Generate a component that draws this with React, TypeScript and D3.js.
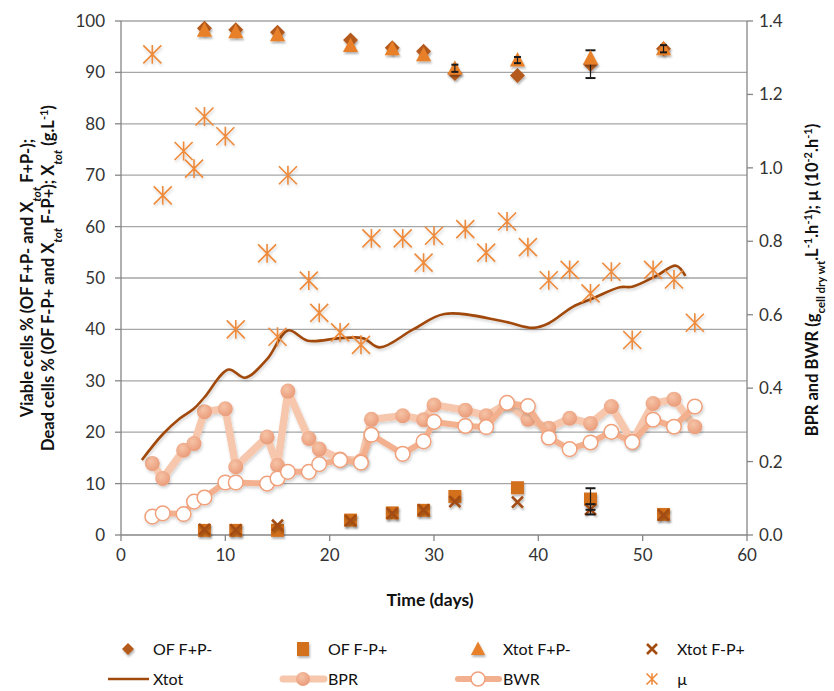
import React from "react";
import * as d3 from "d3";

// ---------- DATA ----------
const cellDays = [8, 11, 15, 22, 26, 29, 32, 38, 45, 52];
const ofViable = [98.6, 98.3, 97.8, 96.3, 94.8, 94.1, 89.8, 89.4, 91.6, 94.6];
const xtotViable = [98.2, 97.9, 97.3, 95.2, 94.6, 93.4, 90.8, 92.4, 92.8, 94.6];
const ofDead = [0.9, 0.9, 0.9, 2.9, 4.3, 4.8, 7.5, 9.2, 7.0, 4.0];
const xtotDead = [1.1, 1.0, 1.9, 2.8, 4.2, 4.9, 6.5, 6.4, 5.0, 3.9];
const ofViableErr = [0, 0, 0, 0, 0, 0, 0, 0, 2.7, 0];
const xtotViableErr = [0, 0, 0, 0, 0, 0, 0.7, 0.6, 0, 0.7];
const ofDeadErr = [0, 0, 0, 0, 0, 0, 0, 0, 2.1, 0];
const xtotDeadErr = [0, 0, 0, 0, 0, 0, 0, 0, 1.0, 0];

const rateDays = [3, 4, 6, 7, 8, 10, 11, 14, 15, 16, 18, 19, 21, 23, 24, 27, 29, 30, 33, 35, 37, 39, 41, 43, 45, 47, 49, 51, 53, 55];
const bpr = [0.195, 0.154, 0.231, 0.249, 0.336, 0.344, 0.186, 0.267, 0.19, 0.392, 0.263, 0.234, 0.207, 0.202, 0.315, 0.325, 0.314, 0.354, 0.34, 0.325, 0.358, 0.315, 0.291, 0.318, 0.304, 0.35, 0.255, 0.358, 0.37, 0.295];
const bwr = [0.05, 0.059, 0.057, 0.091, 0.102, 0.143, 0.143, 0.14, 0.154, 0.172, 0.172, 0.193, 0.204, 0.197, 0.273, 0.221, 0.255, 0.308, 0.297, 0.294, 0.36, 0.351, 0.265, 0.234, 0.252, 0.281, 0.253, 0.314, 0.295, 0.35];
const mu = [1.309, 0.925, 1.046, 0.998, 1.14, 1.086, 0.56, 0.767, 0.54, 0.98, 0.693, 0.605, 0.552, 0.518, 0.808, 0.808, 0.742, 0.815, 0.833, 0.769, 0.854, 0.784, 0.694, 0.722, 0.658, 0.717, 0.531, 0.722, 0.696, 0.578];

const xtotDays = [2, 4, 5.6, 7, 8, 10.3, 11.9, 14, 16, 17.9, 21, 23.2, 24.8, 28, 31, 36.6, 39.5, 41, 43.3, 45.2, 47.8, 49, 51.3, 53.2, 54.1];
const xtotValues = [14.6, 19.6, 22.6, 24.6, 26.8, 32.2, 30.6, 34.2, 39.8, 37.8, 38.3, 38.3, 36.5, 40, 43, 41.6, 40.3, 41.2, 44.4, 46.0, 48.2, 48.3, 50.4, 52.4, 50.4];

const xTicks = [0, 10, 20, 30, 40, 50, 60];
const yLeftTicks = [0, 10, 20, 30, 40, 50, 60, 70, 80, 90, 100];
const yRightTicks = [0, 0.2, 0.4, 0.6, 0.8, 1.0, 1.2, 1.4];

// ---------- STYLE ----------
const FONT = "Lato, 'Open Sans', sans-serif";
const C_DIAMOND = "#b45a1c";
const C_SQUARE = "#d2701f";
const C_TRI = "#e8802a";
const C_X = "#a24c12";
const C_XTOT = "#a14a0c";
const C_MU = "#ee8a3a";
const C_BPR_LINE = "#f6c7ac";
const C_BWR_LINE = "#f3b08e";
const C_BWR_STROKE = "#f0a07a";
const C_AXIS = "#868686";
const C_GRID = "#a6a6a6";

const L = 121, R = 747, T = 21, B = 535;

const x = d3.scaleLinear().domain([0, 60]).range([L, R]);
const yL = d3.scaleLinear().domain([0, 100]).range([B, T]);
const yR = d3.scaleLinear().domain([0, 1.4]).range([B, T]);

const diamondPath = (s: number) => `M0,${-s}L${s},0L0,${s}L${-s},0Z`;
const triPath = (s: number) => `M0,${-s}L${s * 0.95},${s * 0.8}L${-s * 0.95},${s * 0.8}Z`;
const xPath = (s: number) => `M${-s},${-s}L${s},${s}M${-s},${s}L${s},${-s}`;
const starPath = (s: number) => `M${-s},${-s}L${s},${s}M${-s},${s}L${s},${-s}M0,${-s * 1.05}L0,${s * 1.05}`;

function ErrorBars({ days, vals, errs, scale, cap = 5 }: { days: number[]; vals: number[]; errs: number[]; scale: any; cap?: number }) {
  return (
    <g stroke="#1a1a1a" strokeWidth={1.2}>
      {days.map((d, i) => {
        if (!errs[i]) return null;
        const cx = x(d);
        const y1 = scale(vals[i] + errs[i]);
        const y2 = scale(vals[i] - errs[i]);
        return (
          <g key={i}>
            <line x1={cx} x2={cx} y1={y1} y2={y2} />
            <line x1={cx - cap} x2={cx + cap} y1={y1} y2={y1} strokeWidth={2} />
            <line x1={cx - cap} x2={cx + cap} y1={y2} y2={y2} strokeWidth={2} />
          </g>
        );
      })}
    </g>
  );
}

export default function App() {
  const xtotLine = d3
    .line<number>()
    .x((_, i) => x(xtotDays[i]))
    .y((v) => yL(v))
    .curve(d3.curveCatmullRom.alpha(0.5))(xtotValues) as string;
  const bprLine = d3.line<number>().x((_, i) => x(rateDays[i])).y((v) => yR(v))(bpr) as string;
  const bwrLine = d3.line<number>().x((_, i) => x(rateDays[i])).y((v) => yR(v))(bwr) as string;

  const tickFont = { fontFamily: FONT, fontSize: 17, fill: "#333" };
  const legFont = { fontFamily: FONT, fontSize: 16, fill: "#111" };
  const titleFont = { fontFamily: FONT, fontSize: 16.5, fontWeight: 700, fill: "#111" };

  const r1 = 649, r2 = 679;
  const cols = [128, 303, 478, 652];
  const tx = (i: number) => cols[i] + 25;

  return (
    <svg width={834} height={691} style={{ position: "absolute", left: 0, top: 0, background: "#fff" }}>
      <defs>
        <filter id="sh" x="-50%" y="-50%" width="200%" height="200%">
          <feDropShadow dx="1" dy="2" stdDeviation="1.3" floodColor="#000" floodOpacity="0.3" />
        </filter>
        <filter id="shl" x="-10%" y="-10%" width="120%" height="120%">
          <feDropShadow dx="1" dy="2" stdDeviation="1.5" floodColor="#000" floodOpacity="0.18" />
        </filter>
        <radialGradient id="gBpr" cx="40%" cy="35%" r="70%">
          <stop offset="0%" stopColor="#f6c3a6" />
          <stop offset="100%" stopColor="#e99a78" />
        </radialGradient>
      </defs>
      <rect width={834} height={691} fill="#fff" />

      {/* gridlines */}
      <g stroke={C_GRID} strokeWidth={1.3}>
        {yLeftTicks.filter((t) => t > 0).map((t) => (
          <line key={t} x1={L} x2={R} y1={yL(t)} y2={yL(t)} />
        ))}
      </g>

      {/* axes */}
      <g stroke={C_AXIS} strokeWidth={1.3}>
        <line x1={L} x2={L} y1={T} y2={B} />
        <line x1={R} x2={R} y1={T} y2={B} />
        <line x1={L} x2={R} y1={B} y2={B} />
        {yLeftTicks.map((t) => (
          <line key={"l" + t} x1={L - 6} x2={L} y1={yL(t)} y2={yL(t)} />
        ))}
        {yRightTicks.map((t) => (
          <line key={"r" + t} x1={R} x2={R + 6} y1={yR(t)} y2={yR(t)} />
        ))}
        {xTicks.map((t) => (
          <line key={"x" + t} x1={x(t)} x2={x(t)} y1={B} y2={B + 6} />
        ))}
      </g>

      {/* tick labels */}
      <g {...tickFont}>
        {yLeftTicks.map((t) => (
          <text key={t} x={L - 16} y={yL(t)} dy="0.35em" textAnchor="end">{t}</text>
        ))}
        {yRightTicks.map((t) => (
          <text key={t} x={R + 12} y={yR(t)} dy="0.35em" textAnchor="start">{t.toFixed(1)}</text>
        ))}
        {xTicks.map((t) => (
          <text key={t} x={x(t)} y={B + 26} textAnchor="middle">{t}</text>
        ))}
      </g>

      {/* axis titles */}
      <text {...titleFont} fontSize={17.5} x={430} y={606} textAnchor="middle">Time (days)</text>
      <g transform="translate(33,278) rotate(-90)">
        <text {...titleFont} textAnchor="middle" x={0} y={0}>
          Viable cells % (OF F+P- and X<tspan fontStyle="italic" fontSize={12} baselineShift="sub">tot</tspan> F+P-);
        </text>
        <text {...titleFont} textAnchor="middle" x={0} y={21}>
          Dead cells % (OF F-P+ and X<tspan fontStyle="italic" fontSize={12} baselineShift="sub">tot</tspan> F-P+); X<tspan fontStyle="italic" fontSize={12} baselineShift="sub">tot</tspan> (g.L<tspan fontSize={11} baselineShift="super">-1</tspan>)
        </text>
      </g>
      <g transform="translate(818,280) rotate(-90)">
        <text {...titleFont} textAnchor="middle" x={0} y={0}>
          BPR and BWR (g<tspan fontSize={11.5} baselineShift="sub">cell dry wt</tspan>.L<tspan fontSize={11} baselineShift="super">-1</tspan>.h<tspan fontSize={11} baselineShift="super">-1</tspan>); µ (10<tspan fontSize={11} baselineShift="super">-2</tspan>.h<tspan fontSize={11} baselineShift="super">-1</tspan>)
        </text>
      </g>

      {/* BPR */}
      <g filter="url(#shl)">
        <path d={bprLine} fill="none" stroke={C_BPR_LINE} strokeWidth={7.5} strokeLinejoin="round" strokeLinecap="round" />
        {bpr.map((v, i) => (
          <circle key={i} cx={x(rateDays[i])} cy={yR(v)} r={7.5} fill="url(#gBpr)" />
        ))}
      </g>
      {/* BWR */}
      <g filter="url(#shl)">
        <path d={bwrLine} fill="none" stroke={C_BWR_LINE} strokeWidth={6} strokeLinejoin="round" strokeLinecap="round" />
        {bwr.map((v, i) => (
          <circle key={i} cx={x(rateDays[i])} cy={yR(v)} r={7.3} fill="#fff" stroke={C_BWR_STROKE} strokeWidth={1.5} />
        ))}
      </g>

      {/* Xtot line */}
      <path d={xtotLine} fill="none" stroke={C_XTOT} strokeWidth={2.6} filter="url(#shl)" />

      {/* mu */}
      <g stroke={C_MU} strokeWidth={1.6} fill="none" filter="url(#shl)">
        {mu.map((v, i) => (
          <path key={i} d={starPath(9)} transform={`translate(${x(rateDays[i])},${yR(v)})`} />
        ))}
      </g>

      {/* viability markers */}
      <g filter="url(#sh)">
        {ofViable.map((v, i) => (
          <path key={i} d={diamondPath(7.5)} fill={C_DIAMOND} transform={`translate(${x(cellDays[i])},${yL(v)})`} />
        ))}
        {ofDead.map((v, i) => (
          <rect key={i} x={x(cellDays[i]) - 6.5} y={yL(v) - 6.5} width={13} height={13} fill={C_SQUARE} />
        ))}
      </g>
      <ErrorBars days={cellDays} vals={ofViable} errs={ofViableErr} scale={yL} />
      <g filter="url(#sh)">
        {xtotViable.map((v, i) => (
          <path key={i} d={triPath(8)} fill={C_TRI} transform={`translate(${x(cellDays[i])},${yL(v)})`} />
        ))}
      </g>
      <g stroke={C_X} strokeWidth={2.6} fill="none" filter="url(#sh)">
        {xtotDead.map((v, i) => (
          <path key={i} d={xPath(5.5)} transform={`translate(${x(cellDays[i])},${yL(v)})`} />
        ))}
      </g>
      <ErrorBars days={cellDays} vals={xtotViable} errs={xtotViableErr} scale={yL} cap={3.5} />
      <ErrorBars days={cellDays} vals={ofDead} errs={ofDeadErr} scale={yL} />
      <ErrorBars days={cellDays} vals={xtotDead} errs={xtotDeadErr} scale={yL} />

      {/* legend */}
      <g>
        <path d={diamondPath(6)} fill={C_DIAMOND} transform={`translate(${cols[0]},${r1})`} filter="url(#sh)" />
        <text {...legFont} x={tx(0)} y={r1} dy="0.35em">OF F+P-</text>
        <rect x={cols[1] - 6} y={r1 - 7} width={12} height={14} fill={C_SQUARE} filter="url(#sh)" />
        <text {...legFont} x={tx(1)} y={r1} dy="0.35em">OF F-P+</text>
        <path d={triPath(7.5)} fill={C_TRI} transform={`translate(${cols[2]},${r1})`} filter="url(#sh)" />
        <text {...legFont} x={tx(2)} y={r1} dy="0.35em">Xtot F+P-</text>
        <path d={xPath(5)} stroke={C_X} strokeWidth={2.6} fill="none" transform={`translate(${cols[3]},${r1})`} />
        <text {...legFont} x={tx(3)} y={r1} dy="0.35em">Xtot F-P+</text>

        <line x1={cols[0] - 20} x2={cols[0] + 21} y1={r2} y2={r2} stroke={C_XTOT} strokeWidth={2.6} />
        <text {...legFont} x={tx(0)} y={r2} dy="0.35em">Xtot</text>
        <line x1={cols[1] - 20} x2={cols[1] + 21} y1={r2} y2={r2} stroke={C_BPR_LINE} strokeWidth={7} strokeLinecap="round" />
        <circle cx={cols[1]} cy={r2} r={7} fill="url(#gBpr)" />
        <text {...legFont} x={tx(1)} y={r2} dy="0.35em">BPR</text>
        <line x1={cols[2] - 20} x2={cols[2] + 21} y1={r2} y2={r2} stroke={C_BWR_LINE} strokeWidth={6} strokeLinecap="round" />
        <circle cx={cols[2]} cy={r2} r={7} fill="#fff" stroke={C_BWR_STROKE} strokeWidth={1.5} />
        <text {...legFont} x={tx(2)} y={r2} dy="0.35em">BWR</text>
        <path d={starPath(5.5)} stroke={C_MU} strokeWidth={1.6} fill="none" transform={`translate(${cols[3]},${r2})`} />
        <text {...legFont} x={tx(3)} y={r2} dy="0.35em">µ</text>
      </g>
    </svg>
  );
}
